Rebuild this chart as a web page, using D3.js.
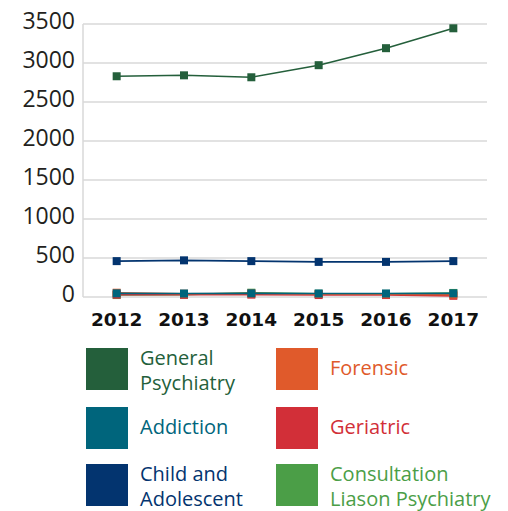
<!DOCTYPE html>
<html>
<head>
<meta charset="utf-8">
<script src="https://cdn.jsdelivr.net/npm/d3@7"></script>
<style>
  html, body { margin: 0; padding: 0; background: #fff; }
</style>
</head>
<body>
<div id="chart"></div>
<script>
// Data
const years = ['2012', '2013', '2014', '2015', '2016', '2017'];
const yTicks = [0, 500, 1000, 1500, 2000, 2500, 3000, 3500];

const generalPsychiatry = [2830, 2842, 2817, 2972, 3190, 3445];
const addiction = [47, 45, 47, 45, 45, 47];
const childAdolescent = [460, 470, 460, 450, 450, 460];
const forensic = [55, 42, 45, 38, 35, 30];
const geriatric = [30, 28, 30, 25, 25, 15];
const consultation = [25, 30, 55, 42, 40, 52];

const seriesNames = ['General Psychiatry', 'Forensic', 'Addiction', 'Geriatric', 'Child and Adolescent', 'Consultation Liason Psychiatry'];
const seriesLabels = [['General', 'Psychiatry'], ['Forensic'], ['Addiction'], ['Geriatric'], ['Child and', 'Adolescent'], ['Consultation', 'Liason Psychiatry']];
const seriesColours = ['#245f3b', '#e05a2b', '#00657c', '#d22f38', '#03346f', '#4b9e47'];
const seriesValues = [generalPsychiatry, forensic, addiction, geriatric, childAdolescent, consultation];

const width = 508, height = 511;
const plot = { left: 83, right: 487, top: 24, bottom: 297 };

const svg = d3.select('#chart')
  .append('svg')
  .attr('width', width)
  .attr('height', height)
  .attr('xmlns', 'http://www.w3.org/2000/svg');

const x = d3.scalePoint()
  .domain(years)
  .range([plot.left, plot.right])
  .padding(0.5);

const y = d3.scaleLinear()
  .domain([0, 3500])
  .range([plot.bottom, plot.top]);

// gridlines
svg.append('g')
  .selectAll('line')
  .data(yTicks)
  .join('line')
  .attr('x1', plot.left)
  .attr('x2', plot.right)
  .attr('y1', d => y(d))
  .attr('y2', d => y(d))
  .attr('stroke', '#d9d9d9')
  .attr('stroke-width', 1.5);

// y axis line
svg.append('line')
  .attr('x1', plot.left)
  .attr('x2', plot.left)
  .attr('y1', plot.top)
  .attr('y2', plot.bottom)
  .attr('stroke', '#d9d9d9')
  .attr('stroke-width', 1.5);

// y tick labels
svg.append('g')
  .selectAll('text')
  .data(yTicks)
  .join('text')
  .attr('x', 75)
  .attr('y', d => y(d) + 5)
  .attr('text-anchor', 'end')
  .attr('font-family', 'Open Sans')
  .attr('font-size', 23)
  .attr('fill', '#231f20')
  .text(d => d);

// x tick labels
svg.append('g')
  .selectAll('text')
  .data(years)
  .join('text')
  .attr('x', d => x(d))
  .attr('y', 326)
  .attr('text-anchor', 'middle')
  .attr('font-family', 'DejaVu Sans')
  .attr('font-weight', 'bold')
  .attr('font-size', 18.5)
  .attr('fill', '#111')
  .text(d => d);

const lineFunc = d3.line()
  .x((d, i) => x(years[i]))
  .y(d => y(d));

// draw order: smaller series behind, addiction on top
const drawOrder = [5, 3, 1, 4, 0, 2];
drawOrder.forEach(k => {
  const g = svg.append('g');
  g.append('path')
    .attr('d', lineFunc(seriesValues[k]))
    .attr('fill', 'none')
    .attr('stroke', seriesColours[k])
    .attr('stroke-width', 1.6);
  g.selectAll('rect')
    .data(seriesValues[k])
    .join('rect')
    .attr('x', (d, i) => x(years[i]) - 4)
    .attr('y', d => y(d) - 4)
    .attr('width', 8)
    .attr('height', 8)
    .attr('fill', seriesColours[k]);
});

// legend
const legendCols = [86, 276];
const legendRows = [348, 407, 464];
seriesNames.forEach((name, i) => {
  const lx = legendCols[i % 2];
  const ly = legendRows[Math.floor(i / 2)];
  const g = svg.append('g');
  g.append('rect')
    .attr('x', lx)
    .attr('y', ly)
    .attr('width', 42)
    .attr('height', 42)
    .attr('fill', seriesColours[i]);
  const lines = seriesLabels[i];
  lines.forEach((ln, j) => {
    const base = lines.length === 1 ? ly + 27 : ly + 17 + j * 25;
    g.append('text')
      .attr('x', lx + 54)
      .attr('y', base)
      .attr('font-family', 'Open Sans')
      .attr('font-size', 20)
      .attr('fill', seriesColours[i])
      .text(ln);
  });
});
</script>
</body>
</html>
